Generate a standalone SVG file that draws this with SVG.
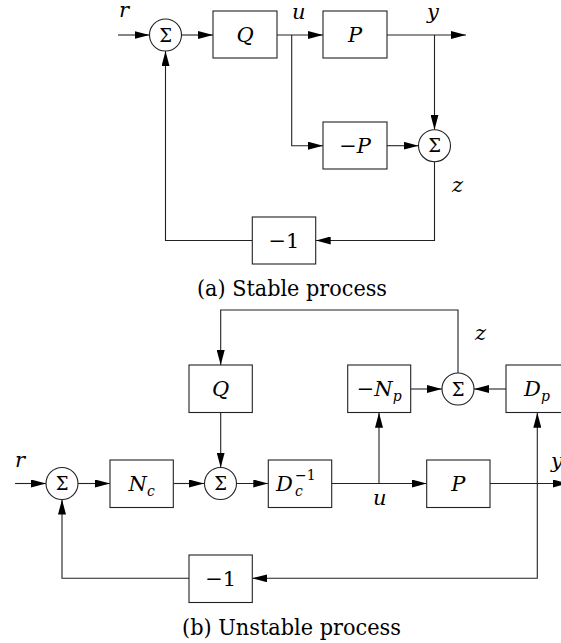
<svg xmlns="http://www.w3.org/2000/svg" width="561" height="643" viewBox="0 0 561 643" font-family="'DejaVu Serif', 'Liberation Serif', serif">
<style>
.box{fill:#fff;stroke:#222;stroke-width:1.1}
.sum{fill:#fff;stroke:#222;stroke-width:1.1}
.ln{fill:none;stroke:#222;stroke-width:1.1;marker-end:url(#ah)}
text{font-family:'DejaVu Serif','Liberation Serif',serif;fill:#000}
.m{font-style:italic;font-size:21px}
.n{font-size:21px}
.sg{font-size:18px;text-anchor:middle}
.cap{font-size:22px}
.sub{font-size:14px}
</style>
<defs>
<marker id="ah" markerWidth="15" markerHeight="8" refX="15" refY="4" orient="auto" markerUnits="userSpaceOnUse">
<path d="M0,0 L15,4 L0,8 Z" fill="#000"/>
</marker>
</defs>

<!-- (a) Stable process -->
<g id="connectors-a">
<path class="ln" d="M118,35 H149.5"/>
<path class="ln" d="M181.5,35 H213"/>
<path class="ln" d="M277,35 H323"/>
<path class="ln" d="M291.7,35 V145.7 H323"/>
<path class="ln" d="M387,35 H466"/>
<path class="ln" d="M434.5,35 V129.7"/>
<path class="ln" d="M387,145.7 H418.5"/>
<path class="ln" d="M434.5,161.7 V240.5 H315.7"/>
<path class="ln" d="M252.3,240.5 H165.5 V51"/>
</g>
<g id="a-sum1"><circle class="sum" cx="165.5" cy="35" r="16"/><text class="sg" x="165.5" y="41.5">Σ</text></g>
<g id="a-Q"><rect class="box" x="213" y="11" width="64" height="47"/><text class="m" x="245" y="42" text-anchor="middle">Q</text></g>
<g id="a-P"><rect class="box" x="323" y="11" width="64" height="47"/><text class="m" x="355" y="42" text-anchor="middle">P</text></g>
<g id="a-negP"><rect class="box" x="323" y="122" width="64" height="47"/><text class="m" x="355" y="153" text-anchor="middle"><tspan font-style="normal">−</tspan>P</text></g>
<g id="a-sum2"><circle class="sum" cx="434.5" cy="145.7" r="16"/><text class="sg" x="434.5" y="152.2">Σ</text></g>
<g id="a-neg1"><rect class="box" x="252.3" y="217" width="63.4" height="47"/><text class="n" x="284" y="248" text-anchor="middle">−1</text></g>
<g id="a-labels">
<text class="m" x="119" y="17">r</text>
<text class="m" x="292" y="19">u</text>
<text class="m" x="427" y="19">y</text>
<text class="m" x="452" y="192">z</text>
</g>
<text class="cap" x="197" y="296" textLength="190" lengthAdjust="spacingAndGlyphs">(a) Stable process</text>

<!-- (b) Unstable process -->
<g id="connectors-b">
<path class="ln" d="M15,483.5 H46"/>
<path class="ln" d="M78,483.5 H110"/>
<path class="ln" d="M173.3,483.5 H204"/>
<path class="ln" d="M236,483.5 H268.3"/>
<path class="ln" d="M331.7,483.5 H426.7"/>
<path class="ln" d="M379,483.5 V412.7"/>
<path class="ln" d="M490,483.5 H568"/>
<path class="ln" d="M537.3,483.5 V412.7"/>
<path class="ln" d="M537.3,483.5 V578.3 H252.3"/>
<path class="ln" d="M189,578.3 H62 V499.5"/>
<path class="ln" d="M410.7,389 H442"/>
<path class="ln" d="M506,389 H474"/>
<path class="ln" d="M458,373 V310 H220.7 V365"/>
<path class="ln" d="M220.7,412.7 V467.5"/>
</g>
<g id="b-sum1"><circle class="sum" cx="62" cy="483.5" r="16"/><text class="sg" x="62" y="490">Σ</text></g>
<g id="b-Nc"><rect class="box" x="110" y="460" width="63.3" height="47.5"/><text class="m" x="141.7" y="491" text-anchor="middle">N<tspan class="sub" dy="5">c</tspan></text></g>
<g id="b-sum2"><circle class="sum" cx="220.5" cy="483.5" r="16"/><text class="sg" x="220.5" y="490">Σ</text></g>
<g id="b-Q"><rect class="box" x="189" y="365" width="63.3" height="47.5"/><text class="m" x="220.7" y="396" text-anchor="middle">Q</text></g>
<g id="b-Dcinv"><rect class="box" x="268.3" y="460" width="63.4" height="47.5"/>
<text class="m" x="276" y="491">D</text>
<text class="m sub" x="295" y="496">c</text>
<text class="n sub" x="295" y="480">−1</text></g>
<g id="b-P"><rect class="box" x="426.7" y="460" width="63.3" height="47.5"/><text class="m" x="458.3" y="491" text-anchor="middle">P</text></g>
<g id="b-negNp"><rect class="box" x="347.7" y="365" width="63" height="47.5"/><text class="m" x="379.2" y="396" text-anchor="middle"><tspan font-style="normal">−</tspan>N<tspan class="sub" dy="5">p</tspan></text></g>
<g id="b-sum3"><circle class="sum" cx="458" cy="389" r="16"/><text class="sg" x="458" y="395.5">Σ</text></g>
<g id="b-Dp"><rect class="box" x="506" y="365" width="64" height="47.5"/><text class="m" x="537" y="396" text-anchor="middle">D<tspan class="sub" dy="5">p</tspan></text></g>
<g id="b-neg1"><rect class="box" x="189" y="555" width="63.3" height="47.5"/><text class="n" x="220.7" y="586" text-anchor="middle">−1</text></g>
<g id="b-labels">
<text class="m" x="15" y="467">r</text>
<text class="m" x="373" y="505">u</text>
<text class="m" x="551" y="468">y</text>
<text class="m" x="475" y="340">z</text>
</g>
<text class="cap" x="182" y="635" textLength="219" lengthAdjust="spacingAndGlyphs">(b) Unstable process</text>
</svg>
